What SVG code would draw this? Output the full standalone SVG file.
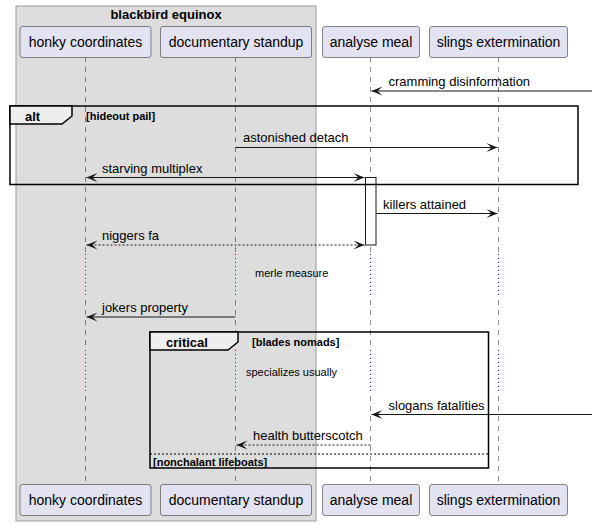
<svg xmlns="http://www.w3.org/2000/svg" width="592" height="526" viewBox="0 0 592 526">
<defs>
<marker id="ah" viewBox="0 -5 12 10" refX="11" refY="0" markerWidth="12" markerHeight="10" markerUnits="userSpaceOnUse" orient="auto-start-reverse">
<path d="M0,-4.5 L11,0 L0,4.5 L5,0 Z" fill="#181818"/>
</marker>
</defs>
<style>
.part rect{fill:#E2E2F0;stroke:#181818;stroke-width:0.5}
.part text{font-family:"Liberation Sans",Arial,sans-serif;font-size:14px;fill:#000;text-anchor:middle}
.life{stroke:#181818;stroke-width:0.5;stroke-dasharray:5,5;fill:none}
.delay{stroke:#A80036;stroke-width:1;stroke-dasharray:1,3;fill:none}
.msg{stroke:#181818;stroke-width:1;fill:none}
.dash{stroke-dasharray:2,2}
.mt{font-family:"Liberation Sans",Arial,sans-serif;font-size:13px;fill:#000}
.small{font-family:"Liberation Sans",Arial,sans-serif;font-size:11px;fill:#000}
.cond{font-family:"Liberation Sans",Arial,sans-serif;font-size:11px;font-weight:bold;fill:#000}
.flabel{font-family:"Liberation Sans",Arial,sans-serif;font-size:13px;font-weight:bold;fill:#000}
.frame{fill:none;stroke:#000;stroke-width:1.5}
.tab{fill:#EEEEEE;stroke:#000;stroke-width:1.5}
</style>
<rect width="592" height="526" fill="#FFFFFF"/>
<g id="box-blackbird-equinox">
<rect x="16" y="6" width="300" height="515" fill="#DDDDDD" stroke="#999999" stroke-width="1"/>
<text x="166" y="19" class="flabel" text-anchor="middle">blackbird equinox</text>
</g>
<g id="lifelines">
<line class="life" x1="85.5" y1="57" x2="85.5" y2="252"/>
<line class="delay" x1="85.5" y1="254" x2="85.5" y2="296"/>
<line class="life" x1="85.5" y1="300" x2="85.5" y2="348"/>
<line class="delay" x1="85.5" y1="350" x2="85.5" y2="392"/>
<line class="life" x1="85.5" y1="396" x2="85.5" y2="484"/>
<line class="life" x1="235.5" y1="57" x2="235.5" y2="252"/>
<line class="delay" x1="235.5" y1="254" x2="235.5" y2="296"/>
<line class="life" x1="235.5" y1="300" x2="235.5" y2="348"/>
<line class="delay" x1="235.5" y1="350" x2="235.5" y2="392"/>
<line class="life" x1="235.5" y1="396" x2="235.5" y2="484"/>
<line class="life" x1="370.5" y1="57" x2="370.5" y2="252"/>
<line class="delay" x1="370.5" y1="254" x2="370.5" y2="296"/>
<line class="life" x1="370.5" y1="300" x2="370.5" y2="348"/>
<line class="delay" x1="370.5" y1="350" x2="370.5" y2="392"/>
<line class="life" x1="370.5" y1="396" x2="370.5" y2="484"/>
<line class="life" x1="498.5" y1="57" x2="498.5" y2="252"/>
<line class="delay" x1="498.5" y1="254" x2="498.5" y2="296"/>
<line class="life" x1="498.5" y1="300" x2="498.5" y2="348"/>
<line class="delay" x1="498.5" y1="350" x2="498.5" y2="392"/>
<line class="life" x1="498.5" y1="396" x2="498.5" y2="484"/>
</g>
<g id="p-honky-coordinates" class="part">
<rect x="20" y="26.5" width="131" height="31" rx="2.5"/>
<text x="85.5" y="47">honky coordinates</text>
<rect x="20" y="484.5" width="131" height="31" rx="2.5"/>
<text x="85.5" y="505">honky coordinates</text>
</g>
<g id="p-documentary-standup" class="part">
<rect x="160.5" y="26.5" width="151" height="31" rx="2.5"/>
<text x="236" y="47">documentary standup</text>
<rect x="160.5" y="484.5" width="151" height="31" rx="2.5"/>
<text x="236" y="505">documentary standup</text>
</g>
<g id="p-analyse-meal" class="part">
<rect x="322.5" y="26.5" width="97" height="31" rx="2.5"/>
<text x="371" y="47">analyse meal</text>
<rect x="322.5" y="484.5" width="97" height="31" rx="2.5"/>
<text x="371" y="505">analyse meal</text>
</g>
<g id="p-slings-extermination" class="part">
<rect x="429.5" y="26.5" width="138" height="31" rx="2.5"/>
<text x="498.5" y="47">slings extermination</text>
<rect x="429.5" y="484.5" width="138" height="31" rx="2.5"/>
<text x="498.5" y="505">slings extermination</text>
</g>
<g id="activation-analyse-meal">
<rect x="365.5" y="177.5" width="10.5" height="67.5" fill="#FFFFFF" stroke="#181818" stroke-width="1"/>
</g>
<g id="frame-alt">
<rect class="frame" x="10" y="106" width="568" height="78.5"/>
<path class="tab" d="M10,106 L72,106 L72,116 L62,124 L10,124 Z"/>
<text x="25" y="120.5" class="flabel">alt</text>
<text x="86" y="120" class="cond">[hideout pail]</text>
</g>
<g id="frame-critical">
<rect class="frame" x="150" y="332" width="338.5" height="136"/>
<path class="tab" d="M150,332 L238,332 L238,342 L228,350 L150,350 Z"/>
<text x="166" y="346.5" class="flabel">critical</text>
<text x="252" y="346" class="cond">[blades nomads]</text>
<line x1="150" y1="454" x2="488.5" y2="454" stroke="#000" stroke-width="1" stroke-dasharray="2,2"/>
<text x="153" y="466" class="cond">[nonchalant lifeboats]</text>
</g>
<g id="connectors">
<line class="msg" x1="592" y1="91" x2="371.5" y2="91" marker-end="url(#ah)"/>
<text x="388.5" y="86" class="mt">cramming disinformation</text>
<line class="msg" x1="235.5" y1="147.5" x2="497.5" y2="147.5" marker-end="url(#ah)"/>
<text x="243" y="142" class="mt">astonished detach</text>
<line class="msg" x1="86.5" y1="177.5" x2="364.5" y2="177.5" marker-start="url(#ah)" marker-end="url(#ah)"/>
<text x="102" y="173" class="mt">starving multiplex</text>
<line class="msg" x1="376" y1="213.5" x2="497.5" y2="213.5" marker-end="url(#ah)"/>
<text x="383" y="209" class="mt">killers attained</text>
<line class="msg dash" x1="86.5" y1="245" x2="364.5" y2="245" marker-start="url(#ah)" marker-end="url(#ah)"/>
<text x="102" y="240" class="mt">niggers fa</text>
<text x="255" y="277" class="small">merle measure</text>
<line class="msg" x1="235.5" y1="317" x2="86.5" y2="317" marker-end="url(#ah)"/>
<text x="102" y="312" class="mt">jokers property</text>
<text x="246" y="376" class="small">specializes usually</text>
<line class="msg" x1="592" y1="414.5" x2="371.5" y2="414.5" marker-end="url(#ah)"/>
<text x="388.5" y="410" class="mt">slogans fatalities</text>
<line class="msg dash" x1="370.5" y1="445" x2="236.5" y2="445" marker-end="url(#ah)"/>
<text x="253" y="440" class="mt">health butterscotch</text>
</g>
</svg>
